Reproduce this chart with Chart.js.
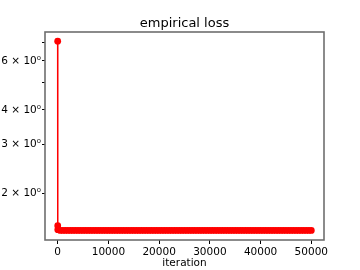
<!DOCTYPE html>
<html>
<head>
<meta charset="utf-8">
<script src="https://cdn.jsdelivr.net/npm/chart.js@4"></script>
<style>
  html, body { margin: 0; padding: 0; background: #fff; }
  #wrap { width: 360px; height: 270px; }
</style>
</head>
<body>
<div id="wrap"><canvas id="lossChart" width="360" height="270"></canvas></div>
<script>
// iterations sampled every 500 (plus the first few steps)
const iterations = [
  0, 10, 20,
  500, 1000, 1500, 2000, 2500, 3000, 3500, 4000, 4500, 5000,
  5500, 6000, 6500, 7000, 7500, 8000, 8500, 9000, 9500, 10000,
  10500, 11000, 11500, 12000, 12500, 13000, 13500, 14000, 14500, 15000,
  15500, 16000, 16500, 17000, 17500, 18000, 18500, 19000, 19500, 20000,
  20500, 21000, 21500, 22000, 22500, 23000, 23500, 24000, 24500, 25000,
  25500, 26000, 26500, 27000, 27500, 28000, 28500, 29000, 29500, 30000,
  30500, 31000, 31500, 32000, 32500, 33000, 33500, 34000, 34500, 35000,
  35500, 36000, 36500, 37000, 37500, 38000, 38500, 39000, 39500, 40000,
  40500, 41000, 41500, 42000, 42500, 43000, 43500, 44000, 44500, 45000,
  45500, 46000, 46500, 47000, 47500, 48000, 48500, 49000, 49500, 50000
];

// empirical loss
const loss = [
  7.07, 1.53, 1.48,
  1.47, 1.47, 1.47, 1.47, 1.47, 1.47, 1.47, 1.47, 1.47, 1.47,
  1.47, 1.47, 1.47, 1.47, 1.47, 1.47, 1.47, 1.47, 1.47, 1.47,
  1.47, 1.47, 1.47, 1.47, 1.47, 1.47, 1.47, 1.47, 1.47, 1.47,
  1.47, 1.47, 1.47, 1.47, 1.47, 1.47, 1.47, 1.47, 1.47, 1.47,
  1.47, 1.47, 1.47, 1.47, 1.47, 1.47, 1.47, 1.47, 1.47, 1.47,
  1.47, 1.47, 1.47, 1.47, 1.47, 1.47, 1.47, 1.47, 1.47, 1.47,
  1.47, 1.47, 1.47, 1.47, 1.47, 1.47, 1.47, 1.47, 1.47, 1.47,
  1.47, 1.47, 1.47, 1.47, 1.47, 1.47, 1.47, 1.47, 1.47, 1.47,
  1.47, 1.47, 1.47, 1.47, 1.47, 1.47, 1.47, 1.47, 1.47, 1.47,
  1.47, 1.47, 1.47, 1.47, 1.47, 1.47, 1.47, 1.47, 1.47, 1.47
];

const xTicks = [0, 10000, 20000, 30000, 40000, 50000];
const yTicks = [2, 3, 4, 5, 6, 7];
const yLabels = { 2: "2 × 10⁰", 3: "3 × 10⁰", 4: "4 × 10⁰", 6: "6 × 10⁰" };
const TITLE = "empirical loss";

const FONT = "'DejaVu Sans', sans-serif";

// spines box + title centred over the plot area (matplotlib style)
const frame = {
  id: "frame",
  afterDraw(chart) {
    const a = chart.chartArea;
    const ctx = chart.ctx;
    ctx.save();
    ctx.strokeStyle = "#6e6e6e";
    ctx.lineWidth = 1.6;
    ctx.strokeRect(a.left, a.top, a.right - a.left, a.bottom - a.top);
    ctx.fillStyle = "#000";
    ctx.font = "13px " + FONT;
    ctx.textAlign = "center";
    ctx.textBaseline = "alphabetic";
    ctx.fillText(TITLE, (a.left + a.right) / 2, 27);
    ctx.restore();
  }
};

const ctx = document.getElementById("lossChart").getContext("2d");
new Chart(ctx, {
  type: "line",
  data: {
    datasets: [{
      label: "loss",
      data: iterations.map((it, i) => ({ x: it, y: loss[i] })),
      borderColor: "#ff0000",
      backgroundColor: "#ff0000",
      borderWidth: 1.5,
      pointRadius: 3.4,
      pointBorderWidth: 0,
      pointBackgroundColor: "#ff0000",
      tension: 0
    }]
  },
  plugins: [frame],
  options: {
    responsive: false,
    animation: false,
    layout: { padding: { left: 0, right: 36, top: 32, bottom: 0 } },
    plugins: {
      legend: { display: false },
      tooltip: { enabled: false },
      title: { display: false }
    },
    scales: {
      x: {
        type: "linear",
        min: -2500,
        max: 52500,
        afterFit(s) { s.height = 30; },
        afterBuildTicks(s) { s.ticks = xTicks.map(v => ({ value: v })); },
        border: { display: false },
        grid: { drawOnChartArea: false, tickLength: 4, color: "#000" },
        ticks: {
          color: "#000",
          padding: 2,
          maxRotation: 0,
          font: { family: FONT, size: 10.5 },
          callback: v => String(v)
        },
        title: {
          display: true,
          text: "iteration",
          color: "#000",
          font: { family: FONT, size: 10.5 },
          padding: { top: 0, bottom: 0 }
        }
      },
      y: {
        type: "logarithmic",
        min: 1.358,
        max: 7.63,
        afterFit(s) { s.width = 45; },
        afterBuildTicks(s) { s.ticks = yTicks.map(v => ({ value: v })); },
        border: { display: false },
        grid: { drawOnChartArea: false, tickLength: 3, color: "#000" },
        ticks: {
          color: "#000",
          padding: 1,
          font: { family: FONT, size: 10.5 },
          callback: v => yLabels[v] || ""
        }
      }
    }
  }
});
</script>
</body>
</html>
